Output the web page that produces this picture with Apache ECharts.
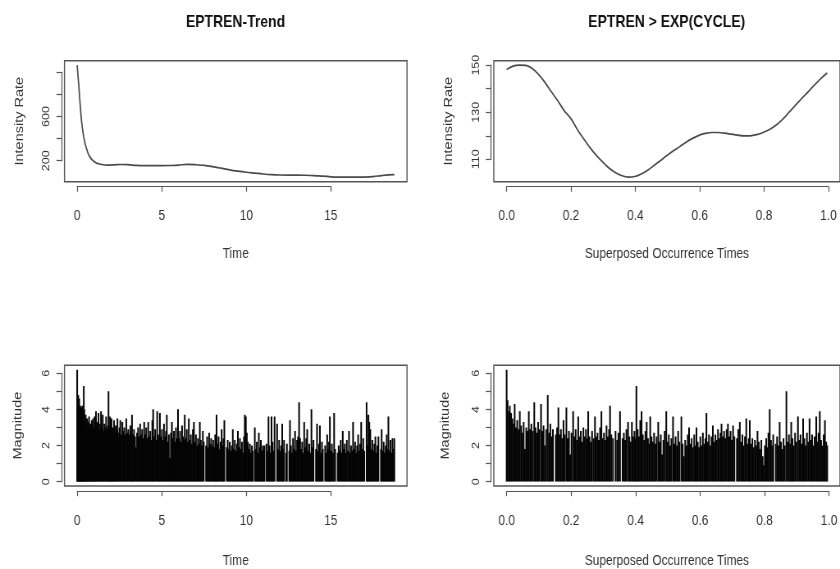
<!DOCTYPE html>
<html><head><meta charset="utf-8">
<script src="https://cdn.jsdelivr.net/npm/echarts@6/dist/echarts.min.js"></script>
<style>
html,body{margin:0;padding:0;background:#fff;overflow:hidden}
#wrap{width:840px;height:569px;overflow:hidden;position:relative}
#c{width:1024px;height:569px;transform-origin:0 0;position:absolute;left:0;top:0}
</style>
</head><body><div id="wrap"><div id="c"></div></div>
<script>
// ---------------- DATA ----------------
const titles = ['EPTREN-Trend', 'EPTREN > EXP(CYCLE)'];

// Top-left: trend intensity vs time
const trendTime = [0.00,0.05,0.10,0.15,0.20,0.26,0.33,0.40,0.46,0.55,0.65,0.75,0.90,1.05,1.20,1.45,1.80,2.20,2.60,3.00,3.50,4.00,4.50,5.00,5.50,6.00,6.50,7.00,7.50,8.00,8.50,9.00,9.50,10.00,10.50,11.00,11.50,12.00,12.50,13.00,13.50,14.00,14.50,15.00,15.50,16.00,16.50,17.00,17.50,18.00,18.40,18.75];
const trendRate = [1064,960,870,760,660,555,470,405,360,310,265,235,205,188,175,166,160,163,166,164,158,156,156,156,157,160,168,164,158,147,133,118,106,96,88,80,74,71,70,70,69,66,60,55,52,51,51,52,57,66,72,74];

// Top-right: cyclic intensity vs superposed occurrence time
const cycleTime = [0.00,0.02,0.04,0.06,0.08,0.10,0.12,0.14,0.16,0.18,0.20,0.22,0.24,0.26,0.28,0.30,0.32,0.34,0.36,0.38,0.40,0.42,0.44,0.46,0.48,0.50,0.52,0.54,0.56,0.58,0.60,0.62,0.64,0.66,0.68,0.70,0.72,0.74,0.76,0.78,0.80,0.82,0.84,0.86,0.88,0.90,0.92,0.94,0.96,0.98,1.00];
const cycleRate = [148.2,149.6,150.0,149.9,148.6,146.0,142.6,138.6,134.8,130.6,127.4,122.8,118.8,115.0,111.7,108.8,106.2,104.3,103.0,102.4,102.7,103.8,105.4,107.4,109.5,111.6,113.6,115.4,117.3,118.9,120.2,121.0,121.4,121.4,121.1,120.7,120.3,120.0,120.0,120.5,121.4,122.7,124.5,126.9,129.8,132.8,135.8,138.6,141.5,144.3,146.7];

// Bottom-left: [time, magnitude] events
const timeEvents = [
[0.00,6.2],[0.03,4.1],[0.06,4.8],[0.09,4.0],[0.12,4.6],[0.15,3.9],[0.18,4.2],[0.21,3.8],[0.24,4.1],[0.27,3.7],[0.30,4.2],[0.33,3.9],[0.36,3.6],[0.39,5.3],[0.42,4.0],[0.46,3.4],[0.50,3.7],[0.54,3.1],[0.58,3.5],[0.62,3.0],[0.66,3.3],[0.70,3.6],[0.74,3.0],[0.78,3.2],[0.82,2.9],[0.86,3.4],[0.90,3.1],[0.94,3.5],[0.98,3.0],
[1.03,3.6],[1.07,3.0],[1.11,3.9],[1.16,3.1],[1.21,3.3],[1.26,3.8],[1.31,2.9],[1.36,3.2],[1.41,3.9],[1.46,3.0],[1.51,3.7],[1.56,2.8],[1.61,3.2],[1.66,3.0],[1.71,3.6],[1.76,2.9],[1.81,3.1],[1.85,5.0],[1.89,3.0],[1.94,3.6],[1.98,2.8],
[2.03,3.5],[2.08,2.8],[2.13,3.0],[2.18,3.4],[2.23,2.7],[2.28,3.1],[2.33,2.9],[2.38,3.5],[2.44,2.7],[2.50,3.0],[2.55,3.4],[2.61,2.6],[2.67,3.3],[2.72,2.8],[2.78,3.0],[2.84,2.6],[2.90,3.5],[2.96,2.7],
[3.02,2.9],[3.08,2.6],[3.14,3.1],[3.20,2.8],[3.24,3.7],[3.30,2.6],[3.36,2.9],[3.42,2.5],[3.48,1.9],[3.54,2.7],[3.60,3.0],[3.66,2.5],[3.72,3.2],[3.78,2.6],[3.84,2.9],[3.90,2.4],[3.96,3.3],
[4.02,2.6],[4.08,3.0],[4.14,2.4],[4.20,3.3],[4.26,2.5],[4.32,2.8],[4.38,2.3],[4.44,3.4],[4.49,4.0],[4.55,2.5],[4.61,2.9],[4.67,2.3],[4.73,3.9],[4.79,2.6],[4.85,2.4],[4.89,3.8],[4.95,2.5],
[5.01,2.9],[5.07,2.3],[5.13,3.2],[5.19,2.5],[5.25,2.8],[5.30,3.7],[5.36,2.2],[5.42,2.6],[5.48,1.3],[5.54,2.7],[5.60,3.3],[5.66,2.4],[5.72,2.8],[5.78,2.2],[5.84,3.0],[5.90,2.4],[5.96,4.0],
[6.02,2.4],[6.08,2.8],[6.14,2.2],[6.20,3.1],[6.26,2.5],[6.31,2.3],[6.36,3.7],[6.42,2.4],[6.48,2.9],[6.54,2.2],[6.60,3.5],[6.66,2.3],[6.72,2.6],[6.78,2.1],[6.84,2.9],[6.90,3.3],[6.96,2.2],
[7.02,2.6],[7.08,2.0],[7.14,2.4],[7.20,2.1],[7.25,3.3],[7.31,2.3],[7.37,2.0],[7.43,2.8],[7.48,2.2],[7.62,2.0],[7.68,2.5],[7.74,1.9],[7.80,2.7],[7.86,2.1],[7.92,2.4],[7.98,2.0],
[8.04,2.3],[8.10,1.9],[8.16,2.6],[8.20,2.0],[8.24,3.7],[8.30,2.1],[8.36,2.5],[8.42,1.8],[8.48,2.2],[8.54,2.9],[8.60,2.0],[8.65,2.4],[8.70,3.4],[8.84,1.9],[8.90,2.3],[8.96,1.8],
[9.02,2.2],[9.08,1.7],[9.14,2.0],[9.20,2.9],[9.26,1.8],[9.32,2.3],[9.38,1.7],[9.44,2.1],[9.50,2.8],[9.56,1.9],[9.62,2.4],[9.68,1.8],[9.74,2.2],[9.80,1.6],[9.86,2.5],[9.91,3.7],[9.97,3.6],
[10.03,2.7],[10.09,2.2],[10.15,1.8],[10.21,2.1],[10.27,1.6],[10.33,2.0],[10.38,1.7],[10.50,3.0],[10.56,1.8],[10.62,2.2],[10.68,1.6],[10.74,2.7],[10.80,1.9],[10.86,2.3],[10.92,1.7],[10.98,2.0],
[11.02,1.8],[11.07,2.0],[11.19,2.1],[11.26,1.7],[11.31,3.6],[11.37,2.0],[11.43,1.6],[11.49,3.6],[11.55,2.2],[11.61,1.7],[11.67,3.6],[11.82,3.2],[11.88,1.8],[11.94,2.3],
[12.00,1.7],[12.06,2.0],[12.12,3.2],[12.18,1.8],[12.23,2.3],[12.35,1.6],[12.40,2.1],[12.54,1.7],[12.58,3.4],[12.64,2.0],[12.70,1.6],[12.76,2.4],[12.82,1.8],[12.88,2.8],[12.94,1.7],
[13.00,2.3],[13.06,2.5],[13.12,4.4],[13.18,2.4],[13.24,1.8],[13.30,2.2],[13.36,1.6],[13.42,3.3],[13.48,1.9],[13.54,2.4],[13.60,2.9],[13.66,1.7],[13.72,2.1],[13.78,1.6],[13.85,4.0],[13.91,1.9],[13.97,2.3],
[14.12,1.8],[14.18,3.2],[14.24,1.7],[14.30,2.1],[14.35,3.1],[14.41,1.6],[14.47,2.2],[14.52,1.8],[14.66,2.0],[14.72,1.6],[14.78,2.6],[14.84,1.8],[14.89,2.2],[14.94,3.6],
[15.00,1.7],[15.06,2.1],[15.12,1.6],[15.19,3.8],[15.25,1.8],[15.40,1.6],[15.46,2.0],[15.52,1.7],[15.58,2.3],[15.64,1.6],[15.70,2.8],[15.76,1.8],[15.82,2.1],[15.88,1.6],[15.94,2.3],
[16.01,1.7],[16.07,2.8],[16.13,1.6],[16.19,2.0],[16.25,1.7],[16.31,3.3],[16.37,1.8],[16.43,2.2],[16.49,1.6],[16.55,2.0],[16.61,2.6],[16.67,1.7],[16.73,2.1],[16.79,3.3],[16.85,1.8],[16.91,2.4],[16.97,1.7],
[17.11,4.4],[17.17,2.0],[17.22,3.7],[17.27,3.3],[17.33,2.9],[17.39,1.8],[17.45,2.3],[17.51,1.7],[17.57,2.1],[17.63,2.5],[17.69,1.6],[17.75,2.0],[17.81,2.5],[17.96,1.8],[18.00,2.9],
[18.06,1.7],[18.12,2.2],[18.18,1.6],[18.24,2.0],[18.30,2.6],[18.36,1.8],[18.40,3.6],[18.46,1.7],[18.52,2.3],[18.58,1.6],[18.64,2.4],[18.70,1.8],[18.75,2.4]
];

// Bottom-right: [superposed occurrence time, magnitude] events
const cycleEvents = [
[0.000,6.2],[0.003,4.5],[0.007,3.9],[0.010,4.2],[0.014,3.8],[0.018,3.5],[0.022,3.2],[0.025,4.3],[0.029,3.0],[0.033,3.4],[0.037,2.9],
[0.041,3.9],[0.045,3.1],[0.049,2.7],[0.053,3.3],[0.057,1.8],[0.061,3.0],[0.065,2.8],[0.069,3.9],[0.073,2.9],[0.077,3.2],
[0.081,2.8],[0.086,4.4],[0.090,3.0],[0.094,2.7],[0.098,3.3],[0.102,2.9],[0.107,4.3],[0.111,2.8],[0.115,3.1],[0.119,2.0],
[0.123,2.9],[0.128,4.8],[0.132,2.7],[0.136,3.2],[0.140,2.5],[0.144,2.9],[0.153,2.6],[0.157,3.0],
[0.161,4.1],[0.165,2.6],[0.169,2.9],[0.173,2.4],[0.177,3.4],[0.181,2.6],[0.186,4.1],[0.190,2.4],[0.194,2.8],[0.198,1.5],
[0.202,2.7],[0.207,3.9],[0.211,2.5],[0.215,2.9],[0.219,2.3],[0.223,3.6],[0.227,2.5],[0.231,2.8],[0.235,2.2],[0.239,3.0],
[0.243,2.5],[0.247,2.9],[0.250,2.4],[0.254,3.9],[0.258,2.5],[0.262,2.2],[0.266,2.8],[0.271,2.4],[0.275,3.6],[0.279,2.5],
[0.283,2.7],[0.287,2.3],[0.291,3.0],[0.295,3.9],[0.299,2.4],[0.303,2.7],[0.307,2.3],[0.311,3.1],[0.315,2.5],[0.319,2.9],
[0.322,4.2],[0.326,2.6],[0.331,2.4],[0.339,2.8],[0.344,2.3],[0.348,2.7],[0.353,3.9],[0.361,2.4],
[0.365,2.7],[0.369,2.3],[0.373,2.9],[0.378,3.3],[0.382,2.5],[0.386,2.2],[0.390,3.3],[0.394,2.5],[0.398,2.8],
[0.401,2.4],[0.404,5.3],[0.408,2.9],[0.412,2.5],[0.416,3.4],[0.420,3.9],[0.424,2.6],[0.428,2.3],[0.432,2.8],[0.436,3.3],
[0.440,2.4],[0.444,2.1],[0.447,3.6],[0.451,2.5],[0.455,2.2],[0.459,2.7],[0.463,2.1],[0.467,2.5],[0.472,3.3],[0.476,2.2],
[0.480,2.6],[0.484,1.5],[0.488,2.3],[0.492,2.8],[0.497,3.9],[0.501,2.2],[0.505,2.6],[0.509,2.0],[0.513,2.4],[0.518,3.6],
[0.522,2.1],[0.526,2.5],[0.530,2.0],[0.534,2.8],[0.538,2.2],[0.544,3.6],[0.548,2.1],[0.552,1.4],[0.556,2.3],
[0.560,2.0],[0.564,2.6],[0.568,3.0],[0.572,2.1],[0.576,2.4],[0.580,1.9],[0.584,2.6],[0.588,2.0],[0.591,3.0],[0.595,2.2],[0.599,1.9],
[0.603,2.5],[0.607,2.0],[0.611,2.7],[0.615,2.1],[0.619,2.4],[0.622,3.8],[0.626,2.2],[0.630,2.6],[0.634,2.0],[0.638,2.5],
[0.642,3.1],[0.646,2.2],[0.650,2.6],[0.654,2.3],[0.658,2.9],[0.662,2.4],[0.666,2.7],[0.669,3.2],[0.673,2.5],[0.677,2.8],
[0.681,2.4],[0.685,2.9],[0.689,3.2],[0.693,2.5],[0.697,2.8],[0.701,2.3],[0.705,3.1],[0.709,2.5],[0.717,2.4],
[0.721,2.9],[0.726,3.3],[0.730,2.2],[0.734,2.6],[0.738,2.0],[0.742,2.5],[0.746,3.5],[0.750,2.1],[0.754,2.4],[0.757,3.4],
[0.761,2.1],[0.765,2.4],[0.769,1.9],[0.773,2.3],[0.777,2.0],[0.781,2.8],[0.785,2.2],[0.789,1.8],[0.793,2.3],[0.797,1.4],[0.800,0.9],
[0.804,2.0],[0.808,2.4],[0.812,1.9],[0.815,2.7],[0.819,4.0],[0.823,2.3],[0.827,2.0],[0.830,2.6],[0.838,2.1],
[0.842,2.5],[0.846,2.0],[0.850,3.3],[0.854,2.2],[0.858,1.8],[0.862,2.4],[0.866,2.0],[0.871,5.0],[0.875,2.2],[0.879,2.6],
[0.883,2.1],[0.886,3.3],[0.890,2.4],[0.894,2.0],[0.898,2.7],[0.902,2.2],[0.907,3.6],[0.911,2.3],[0.915,2.6],[0.919,2.1],
[0.923,3.5],[0.927,2.4],[0.931,2.0],[0.935,2.7],[0.939,2.2],[0.943,3.5],[0.947,2.3],[0.951,2.6],[0.955,2.0],[0.959,2.5],
[0.964,3.6],[0.968,2.2],[0.971,2.7],[0.975,3.9],[0.979,2.3],[0.983,2.0],[0.987,2.6],[0.991,3.4],[0.995,2.2],[0.998,2.0]
];

// Tick positions and which tick labels are printed
const timeTicks = [0, 5, 10, 15];
const cycleTicks = [0, 0.2, 0.4, 0.6, 0.8, 1.0];
const trendRateTicks = [200, 400, 600, 800, 1000];
const trendRateLabels = [200, 600];
const cycleRateTicks = [110, 120, 130, 140, 150];
const cycleRateLabels = [110, 130, 150];
const magTicks = [0, 1, 2, 3, 4, 5, 6];
const magLabels = [0, 2, 4, 6];

// ---------------- STYLE / LAYOUT ----------------
// The reference is an R figure squeezed horizontally; draw wider and squeeze with CSS.
const CW = 1024, SX = 840 / CW;
document.getElementById('c').style.transform = 'scaleX(' + SX + ')';
const FONT = "'Liberation Sans',Arial,Helvetica,sans-serif";
const TXT = '#333';
const AXC = '#555';
const FS = 14.5;
const X = v => v / SX; // screen x-distance -> canvas x-distance

function rRange(vals) { // R default 4% axis extension
  const mn = Math.min(...vals), mx = Math.max(...vals), e = (mx - mn) * 0.04;
  return [mn - e, mx + e];
}

const panels = [
  { box: { left: 64.5, top: 60.7, width: 342.5, height: 121 }, nameGapX: 65, nameGapY: 39, labY: 22,
    xr: rRange(trendTime), yr: rRange(trendRate),
    xt: timeTicks, yt: trendRateTicks, yl: trendRateLabels, xf: v => String(Math.round(v)),
    xName: 'Time', yName: 'Intensity Rate', kind: 'line', x: trendTime, y: trendRate },
  { box: { left: 493.8, top: 60.7, width: 347.5, height: 121 }, nameGapX: 65, nameGapY: 39, labY: 22,
    xr: rRange(cycleTime), yr: rRange(cycleRate),
    xt: cycleTicks, yt: cycleRateTicks, yl: cycleRateLabels, xf: v => v.toFixed(1),
    xName: 'Superposed Occurrence Times', yName: 'Intensity Rate', kind: 'line', x: cycleTime, y: cycleRate },
  { box: { left: 64.5, top: 365.2, width: 342.5, height: 121 }, nameGapX: 67, nameGapY: 40, labY: 22,
    xr: rRange(timeEvents.map(d => d[0])), yr: rRange([0].concat(timeEvents.map(d => d[1]))),
    xt: timeTicks, yt: magTicks, yl: magLabels, xf: v => String(Math.round(v)),
    xName: 'Time', yName: 'Magnitude', kind: 'spike', ev: timeEvents },
  { box: { left: 493.8, top: 365.2, width: 347.5, height: 121 }, nameGapX: 67, nameGapY: 42, labY: 22,
    xr: rRange(cycleEvents.map(d => d[0])), yr: rRange([0].concat(cycleEvents.map(d => d[1]))),
    xt: cycleTicks, yt: magTicks, yl: magLabels, xf: v => v.toFixed(1),
    xName: 'Superposed Occurrence Times', yName: 'Magnitude', kind: 'spike', ev: cycleEvents }
];

const grid = [], xAxis = [], yAxis = [], series = [];
const txt = { fontFamily: FONT, fontSize: FS, color: TXT };

panels.forEach((p, i) => {
  const b = { left: X(p.box.left), width: X(p.box.width), top: p.box.top, height: p.box.height };
  const gd = 2 * i, ga = 2 * i + 1;
  grid.push({ left: b.left, top: b.top, width: b.width, height: b.height, show: true,
    borderColor: AXC, borderWidth: 1.4, backgroundColor: 'transparent' });
  const xt0 = p.xt[0], xtN = p.xt[p.xt.length - 1], yt0 = p.yt[0], ytN = p.yt[p.yt.length - 1];
  const gl = b.left + (xt0 - p.xr[0]) / (p.xr[1] - p.xr[0]) * b.width;
  const gw = (xtN - xt0) / (p.xr[1] - p.xr[0]) * b.width;
  const gt = b.top + (p.yr[1] - ytN) / (p.yr[1] - p.yr[0]) * b.height;
  const gh = (ytN - yt0) / (p.yr[1] - p.yr[0]) * b.height;
  grid.push({ left: gl, top: gt, width: gw, height: gh, show: false });
  const xOff = (b.top + b.height) - (gt + gh) + 5;
  const yOff = gl - b.left + X(3);
  const hidden = { axisLine: { show: false }, axisTick: { show: false }, axisLabel: { show: false }, splitLine: { show: false } };
  xAxis.push(Object.assign({ gridIndex: gd, type: 'value', min: p.xr[0], max: p.xr[1],
    name: p.xName, nameLocation: 'middle', nameGap: p.nameGapX, nameTextStyle: txt }, hidden));
  yAxis.push(Object.assign({ gridIndex: gd, type: 'value', min: p.yr[0], max: p.yr[1],
    name: p.yName, nameLocation: 'middle', nameGap: X(p.nameGapY), nameTextStyle: txt }, hidden));
  xAxis.push({ gridIndex: ga, type: 'value', min: xt0, max: xtN, interval: p.xt[1] - p.xt[0], offset: xOff,
    axisLine: { show: true, onZero: false, lineStyle: { color: AXC, width: 1.2 } },
    axisTick: { show: true, length: 5, lineStyle: { color: AXC, width: 1.2 } },
    axisLabel: Object.assign({ margin: p.labY, formatter: p.xf }, txt), splitLine: { show: false } });
  yAxis.push({ gridIndex: ga, type: 'value', min: yt0, max: ytN, interval: p.yt[1] - p.yt[0], offset: yOff,
    axisLine: { show: true, onZero: false, lineStyle: { color: AXC, width: 1.2 } },
    axisTick: { show: true, length: X(5), lineStyle: { color: AXC, width: 1.2 } },
    axisLabel: Object.assign({}, txt, { fontSize: 12.5, margin: X(9.5), rotate: 90,
      formatter: v => p.yl.some(l => Math.abs(l - v) < 1e-9) ? String(v) : '' }),
    splitLine: { show: false } });

  if (p.kind === 'line') {
    series.push({ type: 'line', xAxisIndex: gd, yAxisIndex: gd, showSymbol: false, smooth: 0.3,
      data: p.x.map((v, k) => [v, p.y[k]]), lineStyle: { color: '#4a4a4a', width: 1.7 }, silent: true, animation: false });
  } else {
    series.push({ type: 'custom', xAxisIndex: gd, yAxisIndex: gd, clip: true, animation: false, silent: true,
      data: p.ev,
      renderItem: (params, api) => {
        const top = api.coord([api.value(0), api.value(1)]);
        const base = api.coord([api.value(0), 0]);
        const w = 2.0;
        return { type: 'rect', shape: { x: top[0] - w / 2, y: top[1], width: w, height: base[1] - top[1] },
          style: { fill: '#050505' } };
      } });
  }
});

const tStyle = { fontFamily: FONT, fontSize: 17, fontWeight: 'bold', color: '#111' };
const title = [
  { text: titles[0], left: X(235.5), top: 13.5, textAlign: 'center', padding: 0, textStyle: tStyle },
  { text: titles[1], left: X(666.7), top: 13.5, textAlign: 'center', padding: 0, textStyle: tStyle }
];

const chart = echarts.init(document.getElementById('c'), null, { renderer: 'canvas', width: CW, height: 569 });
chart.setOption({ backgroundColor: '#fff', animation: false, title, grid, xAxis, yAxis, series });
</script></body></html>
